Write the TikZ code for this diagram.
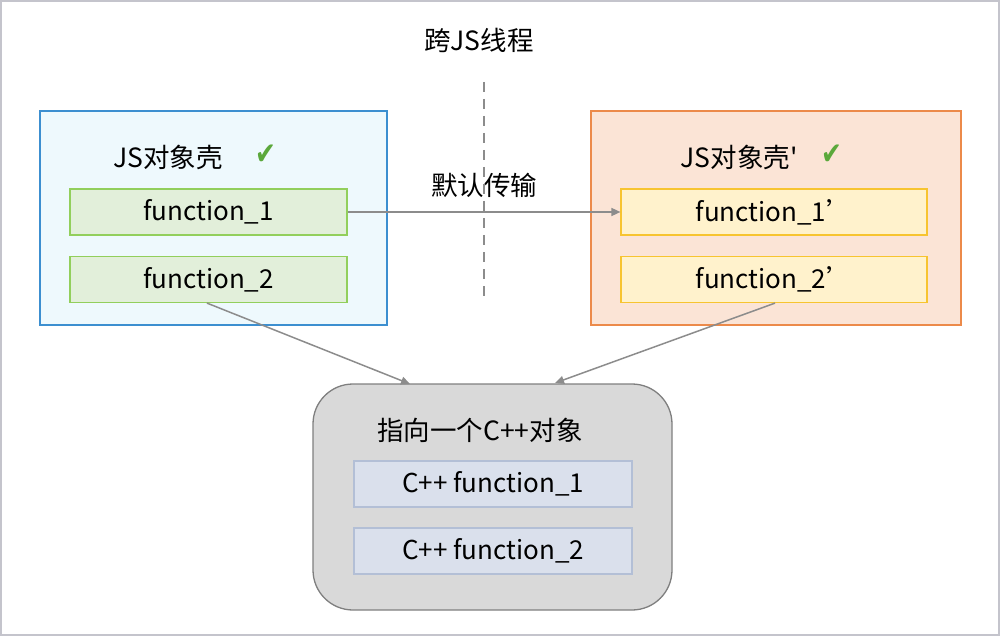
\documentclass[tikz,border=0pt]{standalone}
\usepackage{fontspec}
\setmainfont{Noto Sans CJK SC}[Ligatures=TeXOff]
\newfontfamily\chkfont{DejaVu Sans}
\usetikzlibrary{arrows.meta}
\definecolor{framec}{HTML}{C4C4CC}
\definecolor{bluebd}{HTML}{3C8FD0}
\definecolor{bluebg}{HTML}{EEF9FD}
\definecolor{orgbd}{HTML}{EC8A4A}
\definecolor{orgbg}{HTML}{FBE4D6}
\definecolor{grnbd}{HTML}{92CF5C}
\definecolor{grnbg}{HTML}{E2EFDA}
\definecolor{ylwbd}{HTML}{F7C430}
\definecolor{ylwbg}{HTML}{FFF2CC}
\definecolor{graybg}{HTML}{D9D9D9}
\definecolor{graybd}{HTML}{7F7F7F}
\definecolor{cppbg}{HTML}{DAE0EC}
\definecolor{cppbd}{HTML}{B3BFD6}
\definecolor{arrowc}{HTML}{8C8C8C}
\definecolor{checkc}{HTML}{5BA83B}
\tikzset{
  x=1pt, y=-1pt,
  box/.style={draw, line width=1.3pt, rectangle, inner sep=0pt},
  fbox/.style={draw, line width=1.2pt, rectangle, inner sep=0pt, minimum height=46pt, font=\fontsize{26}{30}\selectfont},
  lbl/.style={inner sep=0pt, font=\fontsize{26.5}{30}\selectfont},
  chk/.style={inner sep=0pt, text=checkc, xscale=0.8, font=\fontsize{31}{34}\selectfont\chkfont},
  conn/.style={draw=arrowc, line width=1.5pt, -{Triangle[length=9pt,width=8pt]}}
}
\begin{document}
\begin{tikzpicture}
\useasboundingbox (0,0) rectangle (1000,636);
\draw[framec, line width=2pt] (1,1) rectangle (999,635);
% title
\node[lbl] (title) at (479,40) {跨JS线程};
\coordinate (dtop) at (484,82);
\coordinate (dbot) at (484,302);
\draw[arrowc, line width=2pt, dash pattern=on 10pt off 7pt] (dtop) -- (dbot);
% left box
\node[box, draw=bluebd, fill=bluebg, minimum width=347pt, minimum height=214pt] (L) at (213.5,218) {};
\node[lbl] (Lt) at (168,157) {JS对象壳};
\node[chk] (Lc) at (266,155) {✔};
\node[fbox, draw=grnbd, fill=grnbg, minimum width=277pt] (f1) at (208.5,212) {function\_1};
\node[fbox, draw=grnbd, fill=grnbg, minimum width=277pt] (f2) at (208.5,279.5) {function\_2};
% right box
\node[box, draw=orgbd, fill=orgbg, minimum width=370pt, minimum height=214pt] (R) at (776,218) {};
\node[lbl] (Rt) at (739,157) {JS对象壳'};
\node[chk] (Rc) at (832,155) {✔};
\node[fbox, draw=ylwbd, fill=ylwbg, minimum width=306pt] (g1) at (774,212) {function\_1’};
\node[fbox, draw=ylwbd, fill=ylwbg, minimum width=306pt] (g2) at (774,279.5) {function\_2’};
% bottom
\node[draw=graybd, fill=graybg, line width=1.3pt, rounded corners=40pt, minimum width=359pt, minimum height=226pt, inner sep=0pt] (C) at (492.5,497) {};
\node[lbl] (Ct) at (480,430) {指向一个C++对象};
\node[fbox, draw=cppbd, fill=cppbg, minimum width=278pt] (c1) at (493,484) {C++ function\_1};
\node[fbox, draw=cppbd, fill=cppbg, minimum width=278pt] (c2) at (493,551) {C++ function\_2};
% connectors
\draw[conn] (f1.east) -- node[above=14pt, lbl] (lab) {默认传输} (g1.west);
\coordinate (a1) at (410,384);
\coordinate (a2) at (555,383);
\draw[conn] ([xshift=-1.5pt]f2.south) -- (a1);
\draw[conn] ([xshift=1pt]g2.south) -- (a2);
\end{tikzpicture}
\end{document}
